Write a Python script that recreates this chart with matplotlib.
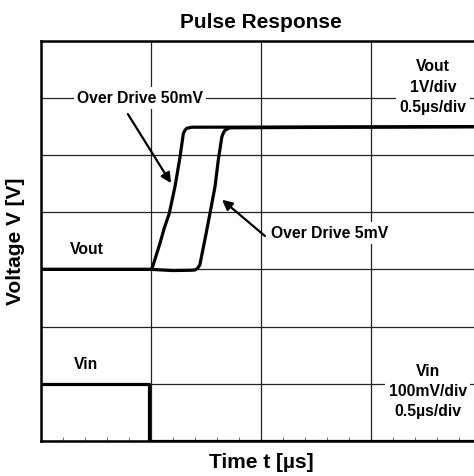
import matplotlib
matplotlib.use("Agg")
import matplotlib.pyplot as plt
from matplotlib.ticker import MultipleLocator, NullFormatter

plt.rcParams["font.family"] = ["Liberation Sans", "DejaVu Sans"]
plt.rcParams["font.weight"] = "bold"

# time in us, Vout in V, Vin in mV
t_50mv = [0.0, 0.50, 0.505, 0.52, 0.541, 0.56, 0.583, 0.609, 0.632, 0.647, 0.655, 0.662, 0.685, 2.0]
vout_50mv = [0.0, 0.0, 0.02, 0.2, 0.46, 0.72, 0.98, 1.45, 1.97, 2.38, 2.44, 2.47, 2.49, 2.5]

t_5mv = [0.0, 0.50, 0.60, 0.68, 0.700, 0.712, 0.722, 0.745, 0.768, 0.791, 0.806, 0.822, 0.830, 0.837, 0.859, 2.0]
vout_5mv = [0.0, 0.0, -0.02, -0.015, -0.01, 0.02, 0.08, 0.52, 0.98, 1.45, 1.92, 2.32, 2.40, 2.44, 2.48, 2.5]

t_vin = [0.0, 0.49, 0.49, 2.0]
vin_mv = [100, 100, 0, 0]

VOUT_ZERO_DIV = 3  # Vout ground sits on the 3rd division
VIN_MV_PER_DIV = 100

fig = plt.figure(figsize=(4.74, 4.76), dpi=100)
ax = fig.add_axes([41 / 474, 35.3 / 476, 440 / 474, 399.7 / 476])

ax.plot(t_50mv, [v + VOUT_ZERO_DIV for v in vout_50mv], color="black", lw=2.3,
        solid_joinstyle="round", solid_capstyle="round")
ax.plot(t_5mv, [v + VOUT_ZERO_DIV for v in vout_5mv], color="black", lw=2.3,
        solid_joinstyle="round", solid_capstyle="round")
ax.plot(t_vin, [v / VIN_MV_PER_DIV for v in vin_mv], color="black", lw=2.3)

ax.set_xlim(0, 2)
ax.set_ylim(0, 7)
ax.xaxis.set_major_locator(MultipleLocator(0.5))
ax.xaxis.set_minor_locator(MultipleLocator(0.1))
ax.yaxis.set_major_locator(MultipleLocator(1))
ax.xaxis.set_major_formatter(NullFormatter())
ax.yaxis.set_major_formatter(NullFormatter())
ax.tick_params(which="major", length=0)
ax.tick_params(axis="x", which="minor", direction="in", length=3, width=0.6, color="#555555")
ax.grid(True, which="major", color="#222222", lw=0.9)
for s in ax.spines.values():
    s.set_linewidth(1.8)

ax.set_title("Pulse Response", fontsize=15, fontweight="bold", pad=9)
ax.set_xlabel("Time t [\u00b5s]", fontsize=15, fontweight="bold", labelpad=5)
ax.set_ylabel("Voltage V [V]", fontsize=15, fontweight="bold", labelpad=8)

box = dict(facecolor="white", edgecolor="none", pad=2.5)
arrow = dict(arrowstyle="-|>", color="black", lw=1.6, mutation_scale=15, shrinkA=0, shrinkB=0)

fs = 11.3
ax.text(0.45, 6.0, "Over Drive 50mV", ha="center", va="center", fontsize=fs, bbox=box)
ax.annotate("", xy=(0.591, 4.51), xytext=(0.395, 5.72), arrowprops=arrow)

ax.text(1.314, 3.63, "Over Drive 5mV", ha="center", va="center", fontsize=fs, bbox=box)
ax.annotate("", xy=(0.823, 4.22), xytext=(1.018, 3.585), arrowprops=arrow)

ax.text(0.208, 3.34, "Vout", ha="center", va="center", fontsize=fs)
ax.text(0.205, 1.34, "Vin", ha="center", va="center", fontsize=fs)

ax.text(1.782, 6.19, "Vout\n1V/div\n0.5\u00b5s/div", ha="center", va="center",
        fontsize=fs, linespacing=1.45, bbox=box)
ax.text(1.759, 0.86, "Vin\n100mV/div\n0.5\u00b5s/div", ha="center", va="center",
        fontsize=fs, linespacing=1.45, bbox=box)

fig.savefig("out.png", dpi=100)
